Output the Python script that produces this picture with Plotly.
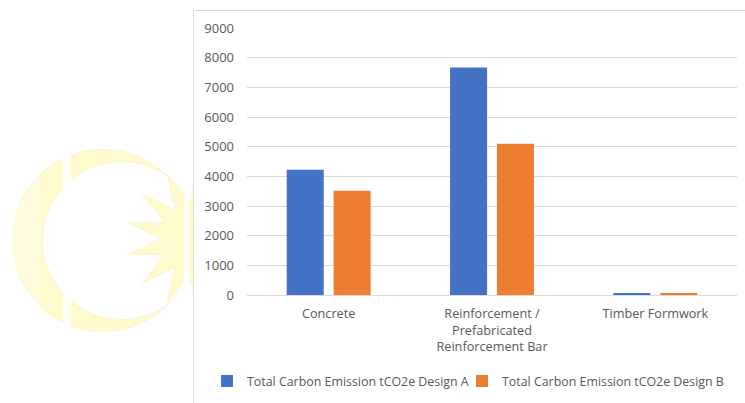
import math
import plotly.graph_objects as go

# Chart data
categories = ["Concrete", "Reinforcement /<br>Prefabricated<br>Reinforcement Bar", "Timber Formwork"]
series_names = ["Total Carbon Emission tCO2e Design A", "Total Carbon Emission tCO2e Design B"]
design_a = [4220, 7670, 65]
design_b = [3510, 5100, 60]
y_ticks = [0, 1000, 2000, 3000, 4000, 5000, 6000, 7000, 8000, 9000]

W, H = 745, 403
ML, MR, MT, MB = 247, 8, 28, 108
PW, PH = W - ML - MR, H - MT - MB

TEXT = "#595959"
GRID = "#d9d9d9"
FONT = "Open Sans"
FS = 12.7
LEGEND_FS = 12.4


def px(x):
    return (x - ML) / PW


def py(y):
    return (H - MB - y) / PH


def box(x0, y0, x1, y1, **kw):
    return dict(xref="paper", yref="paper", x0=px(x0), x1=px(x1),
                y0=py(y1), y1=py(y0), layer="below", **kw)


shapes = []
yellow = "#fffbcc"

# Crescent: outer disc then inner white disc
shapes.append(box(12, 149.5, 194, 331.5, type="circle", fillcolor=yellow,
                  line=dict(color="#f6efc2", width=0.6)))
shapes.append(box(42.5, 161.5, 200.5, 319.5, type="circle", fillcolor="white",
                  line=dict(color="#f6efc2", width=0.6)))

# Fourteen-point star
cx, cy, r_out, r_in = 198.0, 238.5, 71.0, 37.0
pts = []
for i in range(28):
    ang = math.pi + math.radians(12.857) + i * math.pi / 14
    r = r_out if i % 2 == 0 else r_in
    pts.append((cx + r * math.cos(ang), cy + r * math.sin(ang)))
path = "M " + " L ".join(f"{px(x):.5f},{py(y):.5f}" for x, y in pts) + " Z"
shapes.append(dict(type="path", xref="paper", yref="paper", path=path,
                   fillcolor=yellow, line=dict(color="#f6efc2", width=0.6),
                   layer="below"))

# Light bands across the emblem
shapes.append(box(63, 140, 71, 340, type="rect", fillcolor="rgba(255,255,255,0.85)",
                  line=dict(width=0)))
shapes.append(box(184, 140, 189, 340, type="rect", fillcolor="rgba(255,255,255,0.85)",
                  line=dict(width=0)))
# Soft left-side fade of the crescent
shapes.append(box(10, 140, 40, 340, type="rect", fillcolor="rgba(255,255,255,0.35)",
                  line=dict(width=0)))

# Chart area panel with thin border
shapes.append(box(193.5, 10.5, 760, 420, type="rect", fillcolor="white",
                  line=dict(color=GRID, width=1)))

fig = go.Figure()
colors = ["#4472c4", "#ed7d31"]
legend_ids = ["legend", "legend2"]
for name, vals, col, lg in zip(series_names, [design_a, design_b], colors, legend_ids):
    fig.add_trace(go.Bar(x=categories, y=vals, name=name, marker_color=col,
                         marker_line_width=0, legend=lg))


def legend_at(left_px):
    return dict(orientation="h", xref="paper", yref="paper",
                x=px(left_px), xanchor="left", y=py(381.5), yanchor="middle",
                font=dict(family=FONT, size=LEGEND_FS, color=TEXT),
                itemwidth=30, tracegroupgap=0, bgcolor="rgba(0,0,0,0)")


fig.update_layout(
    width=W, height=H,
    margin=dict(l=ML, r=MR, t=MT, b=MB, pad=0, autoexpand=False),
    paper_bgcolor="white",
    plot_bgcolor="rgba(0,0,0,0)",
    font=dict(family=FONT, size=FS, color=TEXT),
    barmode="group",
    bargap=0.426,
    bargroupgap=0.21,
    shapes=shapes,
    showlegend=True,
    legend=legend_at(207),
    legend2=legend_at(462),
)
fig.update_yaxes(range=[0, 9000], tickvals=y_ticks, showgrid=True, gridcolor=GRID,
                 gridwidth=1, zeroline=False, showline=False, ticks="",
                 ticklabelstandoff=12, tickfont=dict(family=FONT, size=13, color=TEXT))
fig.update_xaxes(showline=True, linecolor=GRID, linewidth=1, ticks="",
                 tickfont=dict(family=FONT, size=FS, color=TEXT), ticklabelstandoff=7)

fig.write_html("out.html")
